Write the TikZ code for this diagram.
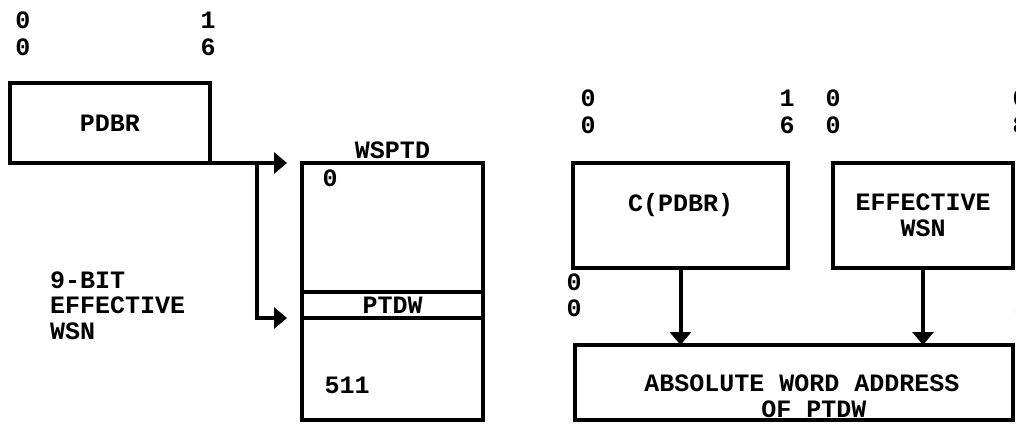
\documentclass[tikz,border=0pt]{standalone}
\usepackage{fontspec}
\setmonofont{Liberation Mono}
\usetikzlibrary{positioning,arrows.meta,calc}
\tikzset{
  regbox/.style={draw,line width=4pt,inner sep=0pt,outer sep=0pt,align=center},
  lbl/.style={inner sep=0pt,align=center},
  arr/.style={line width=4pt,-{Triangle[length=13pt,width=21pt]}},
}

\begin{document}
\begin{tikzpicture}[x=1pt,y=-1pt,font=\fontsize{25}{25.5}\selectfont\ttfamily\bfseries,
   every node/.style={align=center}]
  \useasboundingbox (0,0) rectangle (1016,424);
  % left half: register, table and selection
  \node[lbl] (bz0) at (23,20) {0};
  \node[lbl] (bz1) at (23,47) {0};
  \node[lbl] (bo0) at (208,20) {1};
  \node[lbl] (bo1) at (208,47) {6};
  \node[regbox,minimum width=200pt,minimum height=80pt] (pdbr) at (110,123) {PDBR};
  \node[regbox,minimum width=181pt,minimum height=257pt] (wsptd) at (392.5,291.5) {};
  \node[lbl,above=4pt of wsptd] (wsptdlbl) {WSPTD};
  \node[regbox,minimum width=181pt,minimum height=26pt] (ptdw) at (392.5,305) {PTDW};
  \node[lbl] (first) at (330,178) {0};
  \node[lbl] (last) at (347,385) {511};
  \node[lbl,align=left,anchor=west] (wsn) at (50,305.5) {9-BIT\\EFFECTIVE\\WSN};
  \coordinate (split) at (257,163);
  \draw[arr,shorten >=15pt] (pdbr.south east) -- (wsptd.north west);
  \draw[arr,shorten >=15pt] (split) |- (ptdw.south west);
  % right half: forming the address
  \node[lbl] (cz0) at (588,98) {0};
  \node[lbl] (cz1) at (588,125) {0};
  \node[lbl] (co0) at (787,98) {1};
  \node[lbl] (co1) at (787,125) {6};
  \node[lbl] (ez0) at (833,98) {0};
  \node[lbl] (ez1) at (833,125) {0};
  \node[lbl] (ee0) at (1020,98) {0};
  \node[lbl] (ee1) at (1020,125) {8};
  \node[regbox,minimum width=215pt,minimum height=105pt] (cpdbr) at (680.5,215.5) {C(PDBR)\\\mbox{}};
  \node[regbox,minimum width=180pt,minimum height=105pt] (effwsn) at (923,215.5) {EFFECTIVE\\WSN};
  \node[lbl] (az0) at (574,282) {0};
  \node[lbl] (az1) at (574,308) {0};
  \node[lbl] (at0) at (1022,282) {2};
  \node[lbl] (at1) at (1022,308) {5};
  \node[regbox,minimum width=438pt,minimum height=75pt] (abs) at (794,382.5) {};
  \node[lbl,align=left] (abstxt) at (802,396) {ABSOLUTE WORD ADDRESS\\\hspace*{117pt}OF PTDW};
  \draw[arr] (cpdbr.south) -- (abs.north -| cpdbr.south);
  \draw[arr] (effwsn.south) -- (abs.north -| effwsn.south);
\end{tikzpicture}
\end{document}
